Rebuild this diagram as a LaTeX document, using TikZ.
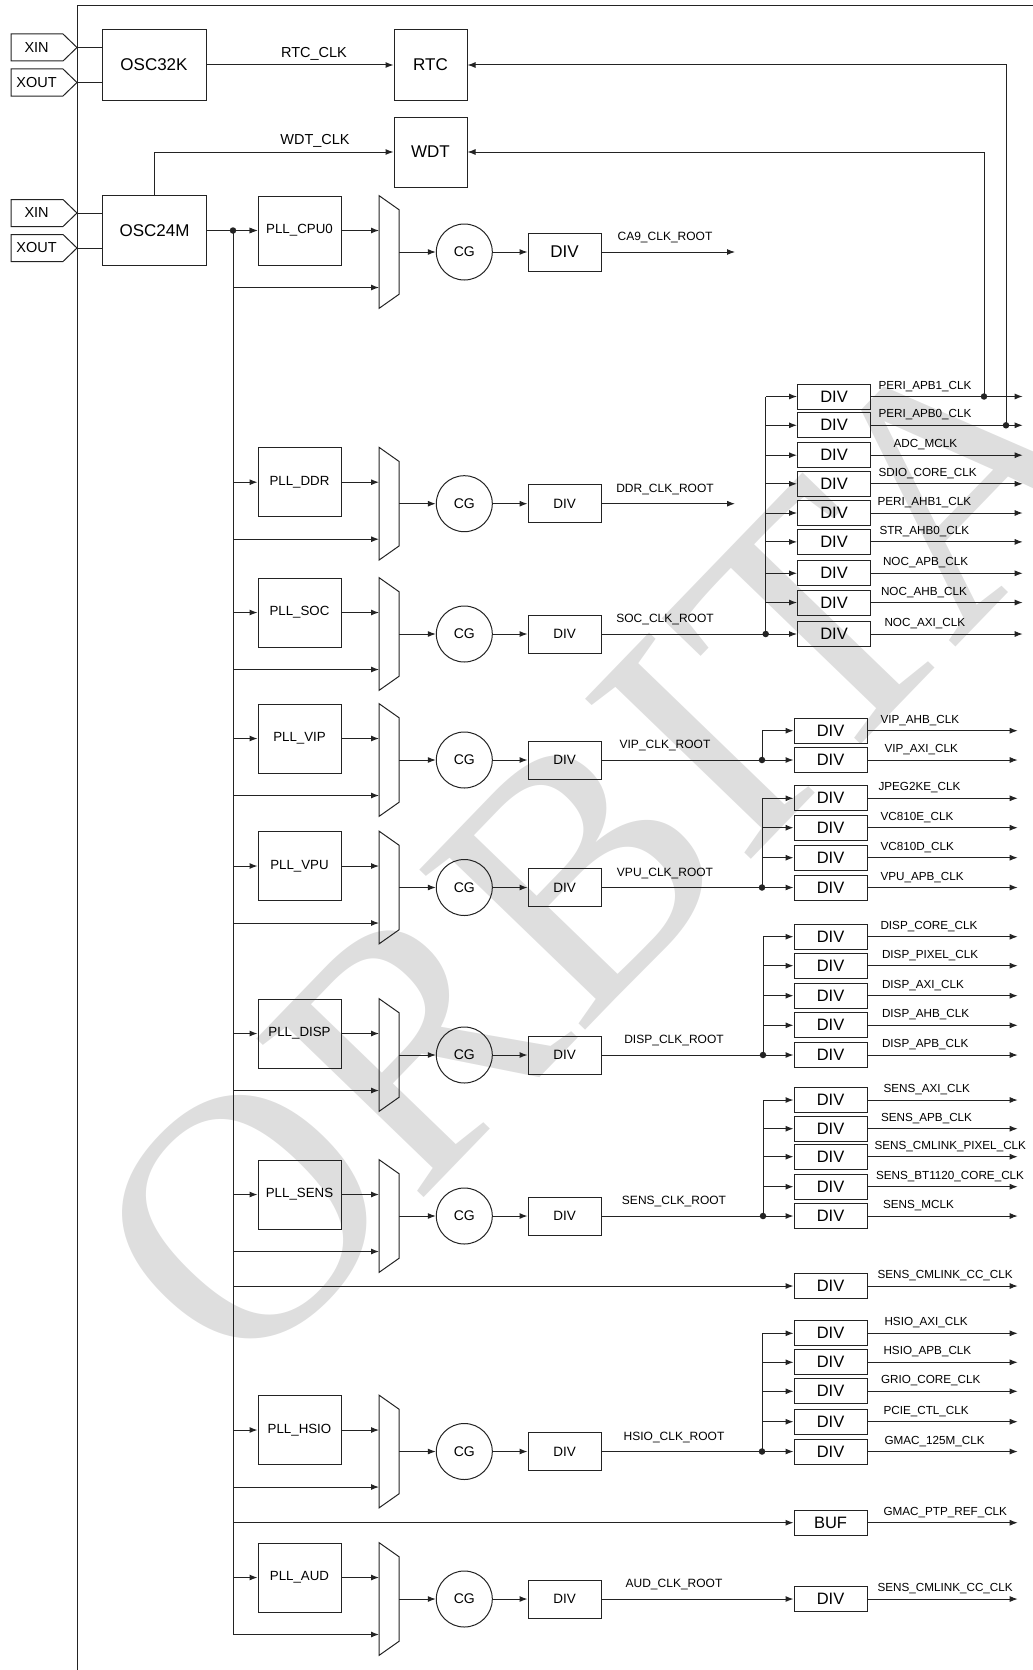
\documentclass[tikz,border=0pt]{standalone}
\usepackage{fontspec}
\setmainfont{Liberation Sans}
\newfontfamily\wmfont{Liberation Serif}
\usetikzlibrary{arrows.meta}
\definecolor{wm}{RGB}{222,222,222}
\definecolor{ln}{RGB}{35,35,35}
\newcommand{\fsz}[1]{\fontsize{#1}{#1}\selectfont}

% one PLL section: #1 id, #2 line y, #3 PLL text, #4 DIV style
\newcommand{\clksec}[4]{%
  \node[pll] (pll#1) at (299.5,#2-21.5) {#3};
  \draw (379,#2-56.4) -- (399,#2-42.3) -- (399,#2+42.3) -- (379,#2+56.4) -- cycle;
  \coordinate (mxa#1) at (379,#2-21.5);
  \coordinate (mxb#1) at (379,#2+35.5);
  \coordinate (mxo#1) at (399,#2);
  \coordinate (busa#1) at (233,#2-21.5);
  \coordinate (busb#1) at (233,#2+35.5);
  \node[cgn] (cg#1) at (464.3,#2) {CG};
  \node[#4] (div#1) at (564.5,#2) {DIV};
  \draw[arr] (busa#1) -- (pll#1);
  \draw[arr] (pll#1) -- (mxa#1);
  \draw[arr] (busb#1) -- (mxb#1);
  \draw[arr] (mxo#1) -- (cg#1);
  \draw[arr] (cg#1) -- (div#1);
}

% right group: #1 id, #2 source node, #3 line y, #4 branch x, #5 div centre x, #6 arrow end x, #7 list
\newcommand{\rgrp}[7]{%
  \node[jdot] (j#1) at (#4,#3) {};
  \draw (#2) -- (j#1.center);
  \foreach \i/\yy/\txt/\lx in {#7} {
    \node[rdiv] (#1\i) at (#5,\yy) {DIV};
    \coordinate (#1b\i) at (#4,\yy);
    \draw[arr] (#1b\i) -- (#1\i);
    \coordinate (#1e\i) at (#6,\yy);
    \draw[arr] (#1\i) -- (#1e\i);
    \node[lbl, anchor=base west] at (\lx,\yy-7.5) {\txt};
  }
  \draw (j#1.center) -- (#1b1);
}

\begin{document}
\begin{tikzpicture}[x=1pt,y=-1pt,line width=1pt,
  box/.style={draw=ln, inner sep=0pt, align=center},
  osc/.style={box, minimum width=104pt, minimum height=70pt, font=\fsz{17}},
  blk/.style={box, minimum width=73pt, minimum height=70pt, font=\fsz{17}},
  pll/.style={box, minimum width=83pt, minimum height=69pt, font=\fsz{13.3}},
  cgn/.style={draw=ln, circle, inner sep=0pt, minimum size=56pt, font=\fsz{14}},
  mdiv/.style={box, minimum width=73pt, minimum height=38pt, font=\fsz{13.5}},
  mdivbig/.style={box, minimum width=73pt, minimum height=38pt, font=\fsz{17}},
  rdiv/.style={box, minimum width=73pt, minimum height=25pt, font=\fsz{16.5}},
  arr/.style={-{Latex[length=8pt,width=6pt]}},
  jdot/.style={circle, fill=ln, inner sep=0pt, minimum size=6.5pt},
  lbl/.style={font=\fsz{11.7}, inner sep=0pt},
  rlbl/.style={font=\fsz{12}, inner sep=0pt, anchor=base},
  sig/.style={font=\fsz{14.5}, inner sep=0pt},
  pin/.style={line width=1pt}]
\useasboundingbox (0,0) rectangle (1033,1670);

% watermark
\node[text=wm, rotate=46, font=\wmfont\fsz{352}, inner sep=0pt] (wmark) at (602,848) {ORBITA};

\begin{scope}[draw=ln]
% frame
\draw (77,1670) -- (77,6) -- (1033,6);

% pins
\foreach \nm/\yc/\tx in {xina/47.5/XIN, xouta/82.5/XOUT, xinb/213/XIN, xoutb/248/XOUT} {
  \draw[pin] (11,\yc-13.5) -- (63,\yc-13.5) -- (77,\yc) -- (63,\yc+13.5) -- (11,\yc+13.5) -- cycle;
  \node[sig] (\nm) at (36.6,\yc) {\tx};
  \coordinate (\nm t) at (77,\yc);
}

% oscillators, RTC, WDT
\node[osc] (osc32) at (154,65) {OSC32K};
\node[osc] (osc24) at (154.5,230.5) {OSC24M};
\node[blk] (rtc) at (430.5,65) {RTC};
\node[blk] (wdt) at (430.5,152) {WDT};
\draw (xinat) -- (osc32.west |- xinat);
\draw (xoutat) -- (osc32.west |- xoutat);
\draw (xinbt) -- (osc24.west |- xinbt);
\draw (xoutbt) -- (osc24.west |- xoutbt);
\draw[arr] (osc32) -- (rtc);
\node[sig] (rtcclk) at (314,54) {RTC\_CLK};
\draw[arr] (osc24.north) |- (wdt);
\node[sig] (wdtclk) at (315,141) {WDT\_CLK};

% bus
\node[jdot] (busdot) at (233,230.5) {};
\coordinate (busend) at (233,1634.5);
\draw (busdot.center) -- (busend);

% sections
\clksec{cpu}{252}{PLL\_CPU0}{mdivbig}
\draw[arr] (osc24) -- (pllcpu);
\clksec{ddr}{503.7}{PLL\_DDR}{mdiv}
\clksec{soc}{634}{PLL\_SOC}{mdiv}
\clksec{vip}{760}{PLL\_VIP}{mdiv}
\clksec{vpu}{887.5}{PLL\_VPU}{mdiv}
\clksec{disp}{1055}{PLL\_DISP}{mdiv}
\clksec{sens}{1216}{PLL\_SENS}{mdiv}
\clksec{hsio}{1451.5}{PLL\_HSIO}{mdiv}
\clksec{aud}{1599}{PLL\_AUD}{mdiv}

% root labels
\node[rlbl] (lca9) at (665,240.5) {CA9\_CLK\_ROOT};
\node[rlbl] (lddr) at (665,492.2) {DDR\_CLK\_ROOT};
\node[rlbl] (lsoc) at (665,622.5) {SOC\_CLK\_ROOT};
\node[rlbl] (lvip) at (665,748.5) {VIP\_CLK\_ROOT};
\node[rlbl] (lvpu) at (665,876) {VPU\_CLK\_ROOT};
\node[rlbl] (ldisp) at (674,1043.5) {DISP\_CLK\_ROOT};
\node[rlbl] (lsens) at (674,1204.5) {SENS\_CLK\_ROOT};
\node[rlbl] (lhsio) at (674,1440) {HSIO\_CLK\_ROOT};
\node[rlbl] (laud) at (674,1587.5) {AUD\_CLK\_ROOT};

% CA9 and DDR outputs
\coordinate (ca9end) at (735,252);
\draw[arr] (divcpu) -- (ca9end);
\coordinate (ddrend) at (735,503.7);
\draw[arr] (divddr) -- (ddrend);

% right groups
\rgrp{rs}{divsoc}{634}{765.7}{834}{1022.7}{%
  1/396.5/PERI\_APB1\_CLK/878, 2/425.3/PERI\_APB0\_CLK/878, 3/455.2/ADC\_MCLK/893,
  4/483.8/SDIO\_CORE\_CLK/878, 5/513/PERI\_AHB1\_CLK/877, 6/541.9/STR\_AHB0\_CLK/879,
  7/573.3/NOC\_APB\_CLK/882.5, 8/602.5/NOC\_AHB\_CLK/880.5, 9/634/NOC\_AXI\_CLK/884}
\rgrp{rv}{divvip}{760}{762}{830.5}{1017.7}{%
  1/730.7/VIP\_AHB\_CLK/880, 2/760/VIP\_AXI\_CLK/884}
\rgrp{ru}{divvpu}{887.5}{762}{830.5}{1017.7}{%
  1/798.3/JPEG2KE\_CLK/878, 2/827.7/VC810E\_CLK/880, 3/857.7/VC810D\_CLK/880, 4/887.5/VPU\_APB\_CLK/880}
\rgrp{rd}{divdisp}{1055}{763}{830.5}{1017.7}{%
  1/936.7/DISP\_CORE\_CLK/880, 2/965.7/DISP\_PIXEL\_CLK/881.5, 3/995.7/DISP\_AXI\_CLK/881.5,
  4/1025.3/DISP\_AHB\_CLK/881.5, 5/1055/DISP\_APB\_CLK/881.5}
\rgrp{rn}{divsens}{1216}{763}{830.5}{1017.7}{%
  1/1100/SENS\_AXI\_CLK/883, 2/1128.7/SENS\_APB\_CLK/880.5, 3/1156.7/SENS\_CMLINK\_PIXEL\_CLK/874,
  4/1186.7/SENS\_BT1120\_CORE\_CLK/875.5, 5/1216/SENS\_MCLK/882.5}
\rgrp{rh}{divhsio}{1451.5}{762}{830.5}{1017.7}{%
  1/1333.3/HSIO\_AXI\_CLK/884, 2/1362.3/HSIO\_APB\_CLK/883, 3/1391.3/GRIO\_CORE\_CLK/880.5,
  4/1421.7/PCIE\_CTL\_CLK/883, 5/1451.5/GMAC\_125M\_CLK/884}

% single outputs
\node[rdiv] (cmcc) at (830.5,1286) {DIV};
\coordinate (buscm) at (233,1286);
\draw[arr] (buscm) -- (cmcc);
\coordinate (cmccend) at (1017.7,1286);
\draw[arr] (cmcc) -- (cmccend);
\node[lbl, anchor=base west] (lcmcc) at (877,1278.5) {SENS\_CMLINK\_CC\_CLK};

\node[rdiv] (buf) at (830.5,1522.7) {BUF};
\coordinate (busbuf) at (233,1522.7);
\draw[arr] (busbuf) -- (buf);
\coordinate (bufend) at (1017.7,1522.7);
\draw[arr] (buf) -- (bufend);
\node[lbl, anchor=base west] (lptp) at (883,1515.2) {GMAC\_PTP\_REF\_CLK};

\node[rdiv] (auddiv) at (830.5,1599) {DIV};
\draw[arr] (divaud) -- (auddiv);
\coordinate (audend) at (1017.7,1599);
\draw[arr] (auddiv) -- (audend);
\node[lbl, anchor=base west] (lcmcc2) at (877,1591.5) {SENS\_CMLINK\_CC\_CLK};

% feedback to RTC and WDT
\node[jdot] (dapb1) at (984,396.5) {};
\node[jdot] (dapb0) at (1006,425.3) {};
\draw[arr] (dapb1.center) |- (wdt);
\draw[arr] (dapb0.center) |- (rtc);
\end{scope}
\end{tikzpicture}
\end{document}
